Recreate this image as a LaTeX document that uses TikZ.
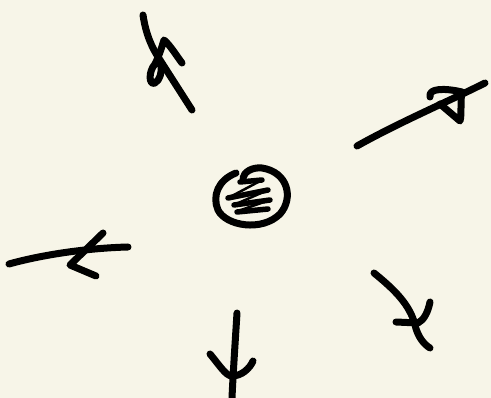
\documentclass[tikz,border=0pt]{standalone}
\definecolor{paper}{RGB}{247,245,232}
\begin{document}
\begin{tikzpicture}[x=1pt, y=-1pt, line width=7pt, line cap=round, line join=round,
  pen/.style={draw=black, line width=7pt}]
  \fill[paper] (0,0) rectangle (491,398);
  \useasboundingbox (0,0) rectangle (491,398);
  % centre blob
  \draw[pen] (236,173) .. controls (218,180) and (212,196) .. (218,210)
    .. controls (226,226) and (262,232) .. (280,214)
    .. controls (294,198) and (288,172) .. (262,168)
    .. controls (252,167) and (244,172) .. (243,178);
  \draw[pen, line width=5.5pt] (240,182) -- (262,180);
  \draw[pen, line width=2.5pt] (262,180) -- (230,197);
  \draw[pen, line width=5.5pt] (228,198) -- (268,190);
  \draw[pen, line width=2.5pt] (268,190) -- (236,204);
  \draw[pen, line width=5.5pt] (234,205) -- (270,200);
  \draw[pen, line width=2.5pt] (270,200) -- (238,211);
  \draw[pen, line width=5.5pt] (237,212) -- (268,209);
  % top left
  \draw[pen] (143,15) .. controls (146,35) and (152,48) .. (160,60) -- (192,110);
  \draw[pen] (182,63) .. controls (176,55) and (170,45) .. (164,40)
    .. controls (161,50) and (158,58) .. (155,64)
    .. controls (148,72) and (149,86) .. (155,83) .. controls (160,80) and (162,72) .. (161,66);
  % top right
  \draw[pen] (357,146) .. controls (400,122) and (445,103) .. (485,83);
  \draw[pen] (430,97) .. controls (428,88) and (445,88) .. (462,92)
    .. controls (460,102) and (462,114) .. (460,121) -- (440,104);
  % left
  \draw[pen] (9,264) .. controls (45,254) and (90,248) .. (128,247);
  \draw[pen] (103,233) -- (70,265) -- (96,276);
  % bottom right
  \draw[pen] (374,273) .. controls (395,290) and (410,305) .. (415,325)
    .. controls (418,338) and (425,345) .. (430,348);
  \draw[pen] (430,302) .. controls (428,312) and (424,320) .. (418,323) -- (396,322);
  % bottom
  \draw[pen] (237,313) .. controls (235,345) and (233,375) .. (232,398);
  \draw[pen] (210,354) .. controls (220,366) and (226,376) .. (232,376)
    .. controls (242,376) and (250,368) .. (253,361);
\end{tikzpicture}
\end{document}
